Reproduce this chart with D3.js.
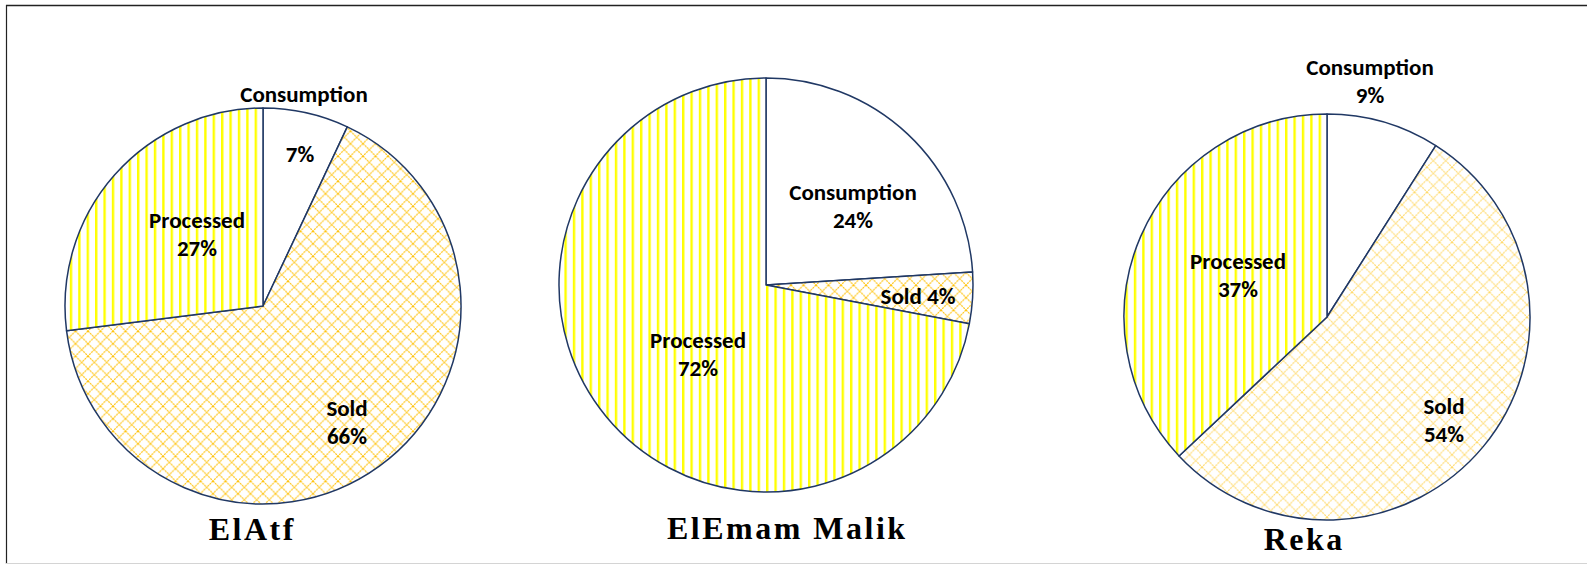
<!DOCTYPE html>
<html>
<head>
<meta charset="utf-8">
<script src="https://cdn.jsdelivr.net/npm/d3@7"></script>
<style>
  html, body { margin: 0; padding: 0; background: #fff; }
  #myViz { width: 1587px; height: 566px; }
</style>
</head>
<body>
<div id="myViz"></div>
<script>
// Data
const farms = ['ElAtf', 'ElEmam Malik', 'Reka'];
const categories = ['Consumption', 'Sold', 'Processed'];
const elAtfValues = [7, 66, 27];
const elEmamValues = [24, 4, 72];
const rekaValues = [9, 54, 37];
const seriesValues = [elAtfValues, elEmamValues, rekaValues];

// Layout (pixels)
const width = 1587, height = 566;
const pieLayout = [
  { cx: 263, cy: 306, r: 198, title: [251, 540], soldColor: '#FFC000' },
  { cx: 766, cy: 285, r: 207, title: [786, 539], soldColor: '#FFC000' },
  { cx: 1327, cy: 317, r: 203, title: [1303, 550], soldColor: '#FFD966' }
];
// label anchors per slice: [x, y of first baseline, mode]
// mode: 'two' = name + pct on two lines, 'one' = "name pct" on one line,
// 'split' = name above pie, pct inside
const labelLayout = [
  [[304, 102, 'split', 300, 162], [347, 416, 'two'], [197, 228, 'two']],
  [[853, 200, 'two'], [918, 304, 'one'], [698, 348, 'two']],
  [[1370, 75, 'two'], [1444, 414, 'two'], [1238, 269, 'two']]
];
const lineGap = 28;

const svg = d3.select('#myViz')
  .append('svg')
  .attr('width', width)
  .attr('height', height);

// Frame
svg.append('line').attr('x1', 6).attr('x2', width).attr('y1', 5.5).attr('y2', 5.5)
  .attr('stroke', '#222').attr('stroke-width', 1.5);
svg.append('line').attr('x1', 6.5).attr('x2', 6.5).attr('y1', 5).attr('y2', 564)
  .attr('stroke', '#222').attr('stroke-width', 1.2);
svg.append('line').attr('x1', 6).attr('x2', width).attr('y1', 563.5).attr('y2', 563.5)
  .attr('stroke', '#d4d4d4').attr('stroke-width', 1.2);

// Patterns
const defs = svg.append('defs');

const vert = defs.append('pattern')
  .attr('id', 'vlines')
  .attr('patternUnits', 'userSpaceOnUse')
  .attr('width', 8.4).attr('height', 10);
vert.append('rect').attr('width', 8.4).attr('height', 10).attr('fill', '#fff');
vert.append('rect').attr('x', 0).attr('width', 2.4).attr('height', 10).attr('fill', '#FFFF00');

pieLayout.forEach((p, i) => {
  const s = 12.5;
  const pat = defs.append('pattern')
    .attr('id', 'diamond' + i)
    .attr('patternUnits', 'userSpaceOnUse')
    .attr('width', s).attr('height', s);
  pat.append('rect').attr('width', s).attr('height', s).attr('fill', '#fff');
  pat.append('path')
    .attr('d', `M0,0L${s},${s}M${s},0L0,${s}`)
    .attr('stroke', p.soldColor)
    .attr('stroke-width', 1.1)
    .attr('stroke-dasharray', '2,0.8')
    .attr('fill', 'none');
});

const fills = (i) => ['#ffffff', `url(#diamond${i})`, 'url(#vlines)'];

const pie = d3.pie().sort(null).value(d => d);
const labelFont = 'Carlito, Calibri, Lato, sans-serif';

seriesValues.forEach((values, i) => {
  const p = pieLayout[i];
  const g = svg.append('g').attr('transform', `translate(${p.cx},${p.cy})`);
  const arc = d3.arc().innerRadius(0).outerRadius(p.r);

  g.selectAll('path')
    .data(pie(values))
    .enter().append('path')
    .attr('d', arc)
    .attr('fill', (d, k) => fills(i)[k])
    .attr('stroke', '#203864')
    .attr('stroke-width', 1.5)
    .attr('stroke-linejoin', 'round');

  // Slice labels
  values.forEach((v, k) => {
    const L = labelLayout[i][k];
    const pct = v + '%';
    const t = svg.append('g')
      .attr('font-family', labelFont)
      .attr('font-weight', 'bold')
      .attr('font-size', '23px')
      .attr('text-anchor', 'middle')
      .attr('fill', '#000');
    if (L[2] === 'one') {
      t.append('text').attr('x', L[0]).attr('y', L[1]).text(categories[k] + ' ' + pct);
    } else if (L[2] === 'split') {
      t.append('text').attr('x', L[0]).attr('y', L[1]).text(categories[k]);
      t.append('text').attr('x', L[3]).attr('y', L[4]).text(pct);
    } else {
      t.append('text').attr('x', L[0]).attr('y', L[1]).text(categories[k]);
      t.append('text').attr('x', L[0]).attr('y', L[1] + lineGap).text(pct);
    }
  });

  // Farm title
  svg.append('text')
    .attr('x', p.title[0] + 1.25)
    .attr('y', p.title[1])
    .attr('text-anchor', 'middle')
    .attr('font-family', '"Liberation Serif", "Times New Roman", serif')
    .attr('font-weight', 'bold')
    .attr('font-size', '32px')
    .attr('letter-spacing', '2.5px')
    .attr('fill', '#000')
    .text(farms[i]);
});
</script>
</body>
</html>
